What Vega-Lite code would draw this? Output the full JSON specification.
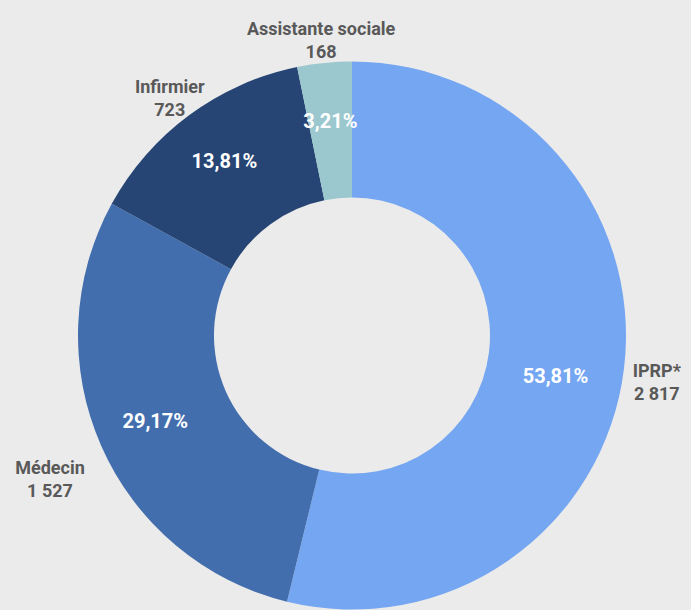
{
  "$schema": "https://vega.github.io/schema/vega-lite/v6.json",
  "autosize": "none",
  "padding": {"left": 13, "top": 61, "right": 0, "bottom": 0},
  "width": 678,
  "height": 549,
  "background": "#ebebeb",
  "config": {"view": {"stroke": null}, "font": "Roboto"},
  "data": {
    "values": [
      {"ordre": 1, "categorie": "IPRP*", "effectif": 2817, "pct": "53,81%", "label": "IPRP*\n2 817"},
      {"ordre": 2, "categorie": "Médecin", "effectif": 1527, "pct": "29,17%", "label": "Médecin\n1 527"},
      {"ordre": 3, "categorie": "Infirmier", "effectif": 723, "pct": "13,81%", "label": "Infirmier\n723"},
      {"ordre": 4, "categorie": "Assistante sociale", "effectif": 168, "pct": "3,21%", "label": "Assistante sociale\n168"}
    ]
  },
  "encoding": {
    "theta": {"field": "effectif", "type": "quantitative", "stack": true},
    "order": {"field": "ordre", "type": "quantitative"},
    "color": {
      "field": "categorie",
      "type": "nominal",
      "legend": null,
      "scale": {
        "domain": ["IPRP*", "Médecin", "Infirmier", "Assistante sociale"],
        "range": ["#75a6f1", "#426eae", "#264574", "#9bc7ce"]
      }
    }
  },
  "layer": [
    {"mark": {"type": "arc", "radius": 274, "innerRadius": 138}},
    {
      "mark": {"type": "text", "radius": 215, "fontSize": 20, "fontWeight": "bold", "align": "center", "baseline": "middle"},
      "encoding": {
        "text": {"condition": {"test": "datum.categorie !== 'IPRP*'", "field": "pct"}, "value": ""},
        "color": {"value": "#ffffff"}
      }
    },
    {
      "mark": {"type": "text", "radius": 205, "dy": 17, "fontSize": 20, "fontWeight": "bold", "align": "center", "baseline": "middle"},
      "encoding": {
        "text": {"condition": {"test": "datum.categorie === 'IPRP*'", "field": "pct"}, "value": ""},
        "color": {"value": "#ffffff"}
      }
    },
    {
      "mark": {"type": "text", "radius": 307, "fontSize": 18, "fontWeight": "bold", "lineBreak": "\n", "lineHeight": 23, "align": "center", "baseline": "middle"},
      "encoding": {
        "text": {"condition": {"test": "datum.categorie !== 'Médecin'", "field": "label"}, "value": ""},
        "color": {"value": "#595959"}
      }
    },
    {
      "mark": {"type": "text", "radius": 330, "fontSize": 18, "fontWeight": "bold", "lineBreak": "\n", "lineHeight": 23, "align": "center", "baseline": "middle"},
      "encoding": {
        "text": {"condition": {"test": "datum.categorie === 'Médecin'", "field": "label"}, "value": ""},
        "color": {"value": "#595959"}
      }
    }
  ]
}
